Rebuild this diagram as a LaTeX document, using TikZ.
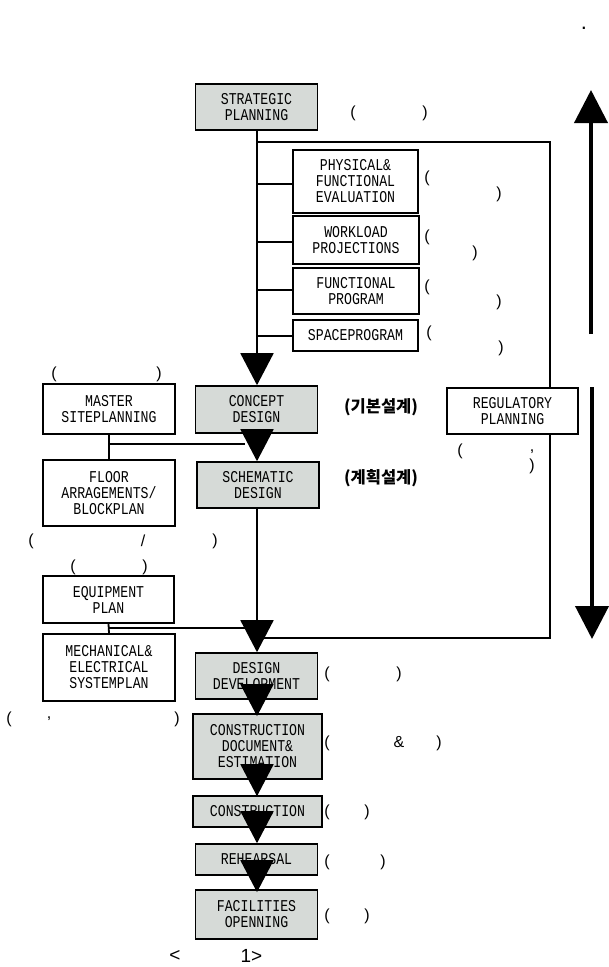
\documentclass[tikz,border=0pt]{standalone}
\usepackage{fontspec}
\usetikzlibrary{arrows.meta}
\setmainfont{Liberation Sans}
\newfontfamily\boxfont[FakeStretch=0.8]{Liberation Mono}
\newfontfamily\krfont{Noto Sans CJK KR}
\definecolor{stagegray}{HTML}{D6DAD7}
\tikzset{
  basebox/.style={draw=black,line width=1.6pt,inner sep=0pt,align=center,font=\boxfont\fontsize{16.5}{16}\selectfont},
  whitebox/.style={basebox,fill=white},
  graybox/.style={basebox,fill=stagegray},
  link/.style={draw=black,line width=1.8pt},
  flow/.style={link,-{Triangle[width=33pt,length=32pt]}},
  bigflow/.style={draw=black,line width=4pt,-{Triangle[width=33pt,length=33pt]}},
  mark label/.style={inner sep=0pt,font=\fontsize{16}{16}\selectfont},
  kr label/.style={inner sep=0pt,font=\krfont\bfseries\fontsize{16.5}{16}\selectfont},
  caption label/.style={inner sep=0pt,font=\fontsize{19}{19}\selectfont}
}
\begin{document}
\begin{tikzpicture}[x=1pt,y=-1pt]
\useasboundingbox (0,0) rectangle (609,967);
% centre stages
\node[graybox,minimum width=122pt,minimum height=46pt] (strategic) at (256.5,107) {STRATEGIC\\PLANNING};
\node[graybox,minimum width=122pt,minimum height=47pt] (concept) at (256.5,409.5) {CONCEPT\\DESIGN};
\node[graybox,minimum width=122pt,minimum height=46pt] (schematic) at (258,485) {SCHEMATIC\\DESIGN};
\node[graybox,minimum width=122pt,minimum height=46pt] (ddev) at (256.5,676) {DESIGN\\DEVELOPMENT};
\node[graybox,minimum width=129pt,minimum height=65pt] (cdoc) at (257.5,746.5) {CONSTRUCTION\\DOCUMENT\&\\ESTIMATION};
\node[graybox,minimum width=129pt,minimum height=31pt] (constr) at (257.5,811.5) {CONSTRUCTION};
\node[graybox,minimum width=122pt,minimum height=31pt] (rehearsal) at (256.5,859.5) {REHEARSAL};
\node[graybox,minimum width=122pt,minimum height=49pt] (opening) at (256.5,914.5) {FACILITIES\\OPENNING};
% upper branch boxes
\node[whitebox,minimum width=125pt,minimum height=63pt] (physical) at (355.5,181.5) {PHYSICAL\&\\FUNCTIONAL\\EVALUATION};
\node[whitebox,minimum width=126pt,minimum height=48pt] (workload) at (356,240) {WORKLOAD\\PROJECTIONS};
\node[whitebox,minimum width=126pt,minimum height=46pt] (funcprog) at (356,291) {FUNCTIONAL\\PROGRAM};
\node[whitebox,minimum width=125pt,minimum height=31pt] (spaceprog) at (355.5,335.5) {SPACEPROGRAM};
% left boxes
\node[whitebox,minimum width=132pt,minimum height=50pt] (master) at (109,409) {MASTER\\SITEPLANNING};
\node[whitebox,minimum width=132pt,minimum height=66pt] (floor) at (109,493) {FLOOR\\ARRAGEMENTS/\\BLOCKPLAN};
\node[whitebox,minimum width=131pt,minimum height=47pt] (equip) at (108.5,599.5) {EQUIPMENT\\PLAN};
\node[whitebox,minimum width=132pt,minimum height=67pt] (mech) at (109,667.5) {MECHANICAL\&\\ELECTRICAL\\SYSTEMPLAN};
% regulatory
\node[whitebox,minimum width=131pt,minimum height=46pt] (regulatory) at (512.5,411) {REGULATORY\\PLANNING};
% junction coordinates
\coordinate (branchA) at (257,184);
\coordinate (branchB) at (257,242);
\coordinate (branchC) at (257,290);
\coordinate (branchD) at (257,336);
\coordinate (topLeft) at (257,142);
\coordinate (topRight) at (550,142);
\coordinate (lowRight) at (550,638);
\coordinate (lowLeft) at (262,638);
\coordinate (masterJoin) at (109,444);
\coordinate (masterEnd) at (245,444);
\coordinate (equipJoin) at (109,628);
\coordinate (equipEnd) at (245,628);
\coordinate (upFrom) at (591,334);
\coordinate (upTo) at (591,90);
\coordinate (downFrom) at (592,387);
\coordinate (downTo) at (592,639);
% connectors
\draw[link] (topLeft) -- (topRight) -- (topRight |- regulatory.north);
\draw[link] (topRight |- regulatory.south) -- (lowRight) -- (lowLeft);
\draw[link] (branchA) -- (branchA -| physical.west);
\draw[link] (branchB) -- (branchB -| workload.west);
\draw[link] (branchC) -- (branchC -| funcprog.west);
\draw[link] (branchD) -- (branchD -| spaceprog.west);
\draw[link] (master.south) -- (floor.north);
\draw[link] (masterJoin) -- (masterEnd);
\draw[link] (equip.south) -- (mech.north);
\draw[link] (equipJoin) -- (equipEnd);
\draw[flow] (topLeft |- strategic.south) -- (topLeft |- concept.north);
\draw[flow] (topLeft |- concept.south) -- (topLeft |- schematic.north);
\draw[flow] (topLeft |- schematic.south) -- (topLeft |- ddev.north);
\draw[flow] (topLeft |- ddev.south) -- ([yshift=-3pt]topLeft |- cdoc.north);
\draw[flow] (topLeft |- cdoc.south) -- ([yshift=-1pt]topLeft |- constr.north);
\draw[flow] (topLeft |- constr.south) -- (topLeft |- rehearsal.north);
\draw[flow] (topLeft |- rehearsal.south) -- ([yshift=-3pt]topLeft |- opening.north);
\draw[bigflow] (upFrom) -- (upTo);
\draw[bigflow] (downFrom) -- (downTo);
% labels
\node[mark label,font=\fontsize{22}{22}\selectfont] (dot) at (584,28) {.};
\node[mark label] (s1) at (353,113) {(};
\node[mark label] (s2) at (425,113) {)};
\node[mark label] (p1) at (427,178) {(};
\node[mark label] (p2) at (499,194) {)};
\node[mark label] (w1) at (427,237) {(};
\node[mark label] (w2) at (475,253) {)};
\node[mark label] (f1) at (427,287) {(};
\node[mark label] (f2) at (499,302) {)};
\node[mark label] (sp1) at (429,333) {(};
\node[mark label] (sp2) at (501,348) {)};
\node[mark label] (m1) at (54,374) {(};
\node[mark label] (m2) at (159,374) {)};
\node[kr label] (ck) at (381,407) {(기본설계)};
\node[kr label] (sk) at (381,478) {(계획설계)};
\node[mark label] (r1) at (460,451) {(};
\node[mark label] (r2) at (532,452) {,};
\node[mark label] (r3) at (532,466) {)};
\node[mark label] (fl1) at (31,541) {(};
\node[mark label] (fl2) at (143,541) {/};
\node[mark label] (fl3) at (215,541) {)};
\node[mark label] (e1) at (73,567) {(};
\node[mark label] (e2) at (145,567) {)};
\node[mark label] (me1) at (9,719) {(};
\node[mark label] (me2) at (49,719) {,};
\node[mark label] (me3) at (177,719) {)};
\node[mark label] (d1) at (327,674) {(};
\node[mark label] (d2) at (399,674) {)};
\node[mark label] (cd1) at (327,743) {(};
\node[mark label] (cd2) at (399,742) {\&};
\node[mark label] (cd3) at (439,743) {)};
\node[mark label] (co1) at (327,812) {(};
\node[mark label] (co2) at (367,812) {)};
\node[mark label] (re1) at (327,862) {(};
\node[mark label] (re2) at (383,862) {)};
\node[mark label] (op1) at (327,916) {(};
\node[mark label] (op2) at (367,916) {)};
\node[caption label] (cap1) at (175,956) {<};
\node[caption label] (cap2) at (251.5,956) {1>};
\end{tikzpicture}
\end{document}
